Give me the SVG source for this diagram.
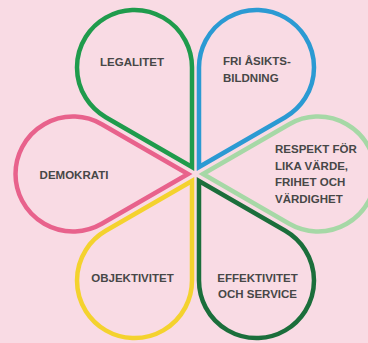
<svg xmlns="http://www.w3.org/2000/svg" width="368" height="343" viewBox="0 0 368 343">
<style>
.petal{fill:none;stroke-width:4.5;stroke-linejoin:miter}
.t{font-family:"Liberation Sans",Arial,sans-serif;font-weight:bold;font-size:11.5px;fill:#474747}
.m{text-anchor:middle}
</style>
<defs>
<path id="drop" d="M0,0 L86.25,-49.8 A57.5,57.5 0 1 1 86.25,49.8 Z"/>
</defs>
<rect width="368" height="343" fill="#f9dbe4"/>
<g id="legalitet">
<use href="#drop" class="petal" stroke="#1f9b4c" transform="translate(192,167) rotate(240)"/>
<text class="t m" x="132" y="66">LEGALITET</text>
</g>
<g id="fri-asiktsbildning">
<use href="#drop" class="petal" stroke="#2b9ad3" transform="translate(199,167) rotate(300)"/>
<text class="t" x="223" y="65">FRI ÅSIKTS-</text>
<text class="t" x="223" y="82">BILDNING</text>
</g>
<g id="respekt">
<use href="#drop" class="petal" stroke="#a6d8a6" transform="translate(203,174)"/>
<text class="t" x="275" y="153">RESPEKT FÖR</text>
<text class="t" x="275" y="169.7">LIKA VÄRDE,</text>
<text class="t" x="275" y="186.4">FRIHET OCH</text>
<text class="t" x="275" y="203">VÄRDIGHET</text>
</g>
<g id="effektivitet">
<use href="#drop" class="petal" stroke="#1b6e3b" transform="translate(199,181) rotate(60)"/>
<text class="t m" x="257.5" y="282">EFFEKTIVITET</text>
<text class="t m" x="257.5" y="298">OCH SERVICE</text>
</g>
<g id="objektivitet">
<use href="#drop" class="petal" stroke="#f4d22e" transform="translate(192,181) rotate(120)"/>
<text class="t m" x="132.5" y="282">OBJEKTIVITET</text>
</g>
<g id="demokrati">
<use href="#drop" class="petal" stroke="#e8628c" transform="translate(188,174) rotate(180)"/>
<text class="t m" x="74" y="179">DEMOKRATI</text>
</g>
<g id="connectors"></g>
</svg>
